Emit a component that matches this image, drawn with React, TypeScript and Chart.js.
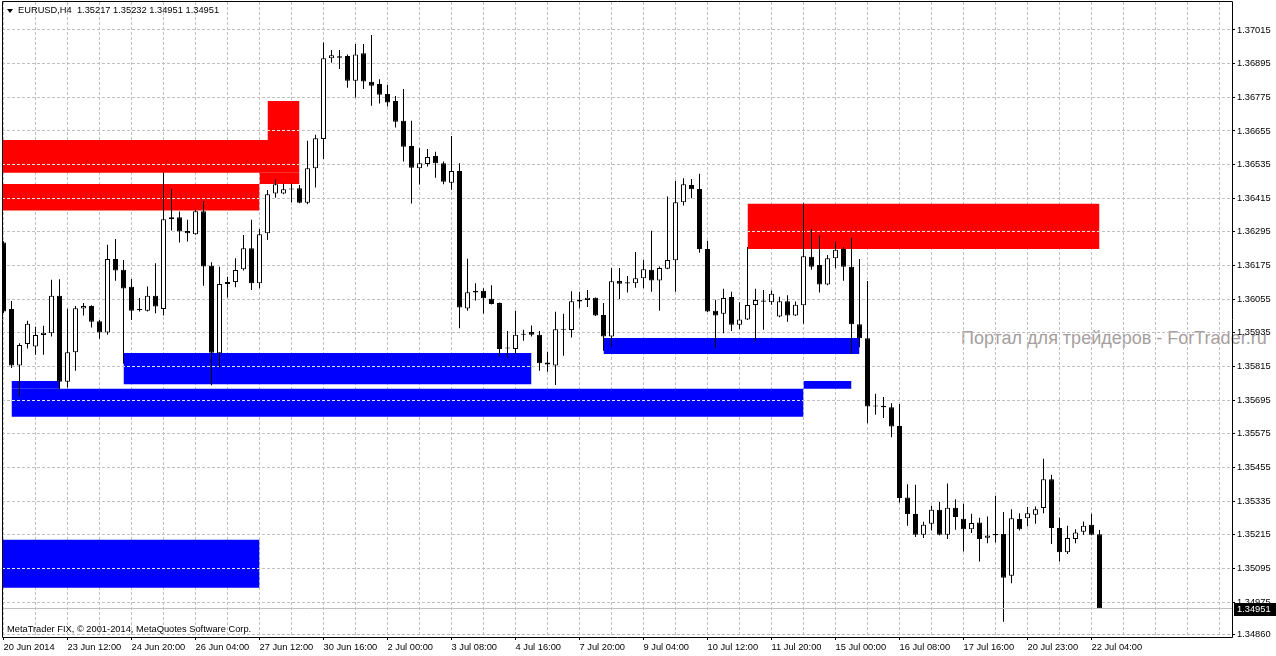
import React, { useEffect, useRef } from 'react';
import { Chart, registerables } from 'chart.js';

Chart.register(...registerables);

// ---- data (EURUSD, H4) ----
const symbol = 'EURUSD,H4';

const opens = [
  1.36257, 1.36020, 1.35819, 1.35895, 1.35886, 1.35927, 1.35934, 1.36067, 1.35761, 1.35866,
  1.36022, 1.36031, 1.35976, 1.35936, 1.36198, 1.36160, 1.36099, 1.36020, 1.36014, 1.36067,
  1.36020, 1.36340, 1.36347, 1.36298, 1.36287, 1.36369, 1.36174, 1.35862, 1.36109, 1.36116,
  1.36162, 1.36237, 1.36112, 1.36290, 1.36432, 1.36432, 1.36446, 1.36451, 1.36399, 1.36522,
  1.36626, 1.36914, 1.36921, 1.36922, 1.36834, 1.36932, 1.36830, 1.36822, 1.36787, 1.36762,
  1.36691, 1.36601, 1.36522, 1.36537, 1.36566, 1.36540, 1.36470, 1.36512, 1.36022, 1.36085,
  1.36085, 1.36057, 1.36041, 1.35879, 1.35877, 1.35928, 1.35938, 1.35928, 1.35829, 1.35819,
  1.35946, 1.35945, 1.36053, 1.36052, 1.36060, 1.35999, 1.35922, 1.36120, 1.36111, 1.36112,
  1.36130, 1.36160, 1.36122, 1.36164, 1.36194, 1.36401, 1.36462, 1.36448, 1.36234, 1.36014,
  1.36003, 1.36063, 1.35964, 1.35983, 1.36034, 1.36046, 1.36044, 1.35993, 1.36048, 1.35997,
  1.36033, 1.36206, 1.36177, 1.36107, 1.36201, 1.36234, 1.36171, 1.35966, 1.35916, 1.35676,
  1.35675, 1.35670, 1.35603, 1.35348, 1.35289, 1.35215, 1.35254, 1.35304, 1.35215, 1.35311,
  1.35272, 1.35235, 1.35259, 1.35204, 1.35218, 1.35218, 1.35069, 1.35271, 1.35274, 1.35286,
  1.35310, 1.35413, 1.35239, 1.35153, 1.35200, 1.35226, 1.35251, 1.35217,
];
const highs = [
  1.36262, 1.36049, 1.35898, 1.35978, 1.35957, 1.35960, 1.36124, 1.36126, 1.36021, 1.36031,
  1.36041, 1.36033, 1.35981, 1.36249, 1.36270, 1.36195, 1.36127, 1.36059, 1.36100, 1.36183,
  1.36506, 1.36448, 1.36368, 1.36338, 1.36374, 1.36405, 1.36187, 1.36171, 1.36135, 1.36201,
  1.36284, 1.36338, 1.36305, 1.36444, 1.36482, 1.36467, 1.36468, 1.36462, 1.36620, 1.36641,
  1.36970, 1.36944, 1.36944, 1.36928, 1.36965, 1.36965, 1.36997, 1.36839, 1.36819, 1.36780,
  1.36805, 1.36691, 1.36594, 1.36591, 1.36581, 1.36546, 1.36637, 1.36540, 1.36199, 1.36112,
  1.36094, 1.36105, 1.36043, 1.35942, 1.36014, 1.35946, 1.35961, 1.35942, 1.35868, 1.36010,
  1.36003, 1.36083, 1.36082, 1.36088, 1.36061, 1.36041, 1.36166, 1.36166, 1.36138, 1.36223,
  1.36195, 1.36299, 1.36172, 1.36421, 1.36477, 1.36486, 1.36484, 1.36502, 1.36263, 1.36053,
  1.36092, 1.36082, 1.36044, 1.36241, 1.36092, 1.36088, 1.36086, 1.36064, 1.36069, 1.36047,
  1.36397, 1.36305, 1.36282, 1.36213, 1.36261, 1.36240, 1.36273, 1.36198, 1.36120, 1.35718,
  1.35706, 1.35684, 1.35681, 1.35395, 1.35393, 1.35261, 1.35318, 1.35332, 1.35398, 1.35342,
  1.35326, 1.35290, 1.35276, 1.35280, 1.35354, 1.35296, 1.35306, 1.35292, 1.35314, 1.35316,
  1.35486, 1.35429, 1.35276, 1.35247, 1.35235, 1.35262, 1.35290, 1.35232,
];
const lows = [
  1.36006, 1.35810, 1.35708, 1.35879, 1.35857, 1.35857, 1.35922, 1.35734, 1.35740, 1.35800,
  1.35997, 1.35954, 1.35914, 1.35928, 1.36121, 1.35825, 1.35981, 1.36011, 1.36011, 1.36005,
  1.35997, 1.36300, 1.36257, 1.36261, 1.36285, 1.36103, 1.35748, 1.35811, 1.36061, 1.36098,
  1.36157, 1.36088, 1.36094, 1.36266, 1.36417, 1.36429, 1.36401, 1.36397, 1.36394, 1.36453,
  1.36555, 1.36898, 1.36876, 1.36809, 1.36774, 1.36805, 1.36745, 1.36753, 1.36742, 1.36667,
  1.36546, 1.36396, 1.36464, 1.36528, 1.36488, 1.36465, 1.36445, 1.35951, 1.36014, 1.36050,
  1.36004, 1.36036, 1.35851, 1.35845, 1.35859, 1.35907, 1.35922, 1.35800, 1.35796, 1.35749,
  1.35853, 1.35918, 1.36023, 1.36027, 1.35995, 1.35871, 1.35886, 1.36056, 1.36079, 1.36096,
  1.36094, 1.36082, 1.36014, 1.36162, 1.36082, 1.36389, 1.36415, 1.36221, 1.36009, 1.35882,
  1.35934, 1.35942, 1.35948, 1.35981, 1.35906, 1.35946, 1.36035, 1.35991, 1.35975, 1.35995,
  1.35967, 1.36160, 1.36079, 1.36105, 1.36165, 1.36121, 1.35862, 1.35884, 1.35613, 1.35643,
  1.35631, 1.35563, 1.35330, 1.35247, 1.35207, 1.35203, 1.35230, 1.35213, 1.35200, 1.35233,
  1.35155, 1.35221, 1.35120, 1.35185, 1.35187, 1.34905, 1.35042, 1.35230, 1.35245, 1.35254,
  1.35292, 1.35182, 1.35120, 1.35146, 1.35185, 1.35215, 1.35213, 1.34951,
];
const closes = [
  1.36011, 1.35819, 1.35892, 1.35967, 1.35927, 1.35935, 1.36067, 1.35761, 1.35866, 1.36023,
  1.36031, 1.35975, 1.35936, 1.36198, 1.36157, 1.36093, 1.36014, 1.36016, 1.36067, 1.36029,
  1.36340, 1.36347, 1.36296, 1.36290, 1.36369, 1.36172, 1.35864, 1.36109, 1.36116, 1.36159,
  1.36237, 1.36112, 1.36287, 1.36429, 1.36465, 1.36447, 1.36450, 1.36399, 1.36522, 1.36629,
  1.36914, 1.36925, 1.36916, 1.36834, 1.36928, 1.36831, 1.36816, 1.36784, 1.36756, 1.36688,
  1.36599, 1.36524, 1.36540, 1.36562, 1.36540, 1.36474, 1.36512, 1.36025, 1.36080, 1.36079,
  1.36058, 1.36038, 1.35877, 1.35883, 1.35928, 1.35932, 1.35928, 1.35827, 1.35822, 1.35948,
  1.35950, 1.36048, 1.36047, 1.36060, 1.35997, 1.35922, 1.36119, 1.36110, 1.36115, 1.36130,
  1.36162, 1.36122, 1.36166, 1.36195, 1.36401, 1.36465, 1.36447, 1.36234, 1.36011, 1.35997,
  1.36059, 1.35964, 1.35983, 1.36034, 1.36052, 1.36050, 1.36074, 1.36048, 1.35997, 1.36035,
  1.36208, 1.36171, 1.36107, 1.36201, 1.36231, 1.36171, 1.35966, 1.35916, 1.35672, 1.35672,
  1.35670, 1.35601, 1.35346, 1.35289, 1.35215, 1.35251, 1.35304, 1.35215, 1.35311, 1.35278,
  1.35235, 1.35257, 1.35200, 1.35212, 1.35213, 1.35062, 1.35274, 1.35235, 1.35292, 1.35306,
  1.35413, 1.35239, 1.35153, 1.35203, 1.35223, 1.35247, 1.35215, 1.34951,
];

const timeTickLabels = [
  '20 Jun 2014', '23 Jun 12:00', '24 Jun 20:00', '26 Jun 04:00', '27 Jun 12:00', '30 Jun 16:00',
  '2 Jul 00:00', '3 Jul 08:00', '4 Jul 16:00', '7 Jul 20:00', '9 Jul 04:00', '10 Jul 12:00',
  '11 Jul 20:00', '15 Jul 00:00', '16 Jul 08:00', '17 Jul 16:00', '20 Jul 23:00', '22 Jul 04:00',
];

const priceTickLabels = [
  '1.37015', '1.36895', '1.36775', '1.36655', '1.36535', '1.36415', '1.36295', '1.36175',
  '1.36055', '1.35935', '1.35815', '1.35695', '1.35575', '1.35455', '1.35335', '1.35215',
  '1.35095', '1.34975', '1.34860',
];

// supply / demand zones: start bar, end bar, low price, high price
const zoneFromBar = [-1, 33, 32, -1, 93, 15, 1, 1, 75, 100, -1];
const zoneToBar = [37, 37, 37, 32, 137, 66, 7, 100, 107, 106, 32];
const zoneLow = [1.36506, 1.36623, 1.36466, 1.36371, 1.36234, 1.35752, 1.35736, 1.35636, 1.35860, 1.35736, 1.35026];
const zoneHigh = [1.36623, 1.36762, 1.36506, 1.36466, 1.36395, 1.35863, 1.35763, 1.35736, 1.35917, 1.35763, 1.35197];
const zoneKind = ['supply', 'supply', 'supply', 'supply', 'supply', 'demand', 'demand', 'demand', 'demand', 'demand', 'demand'];

const watermark = 'Портал для трейдеров - ForTrader.ru';
const copyright = 'MetaTrader FIX, © 2001-2014, MetaQuotes Software Corp.';

const FONT = '"Liberation Sans", Arial, sans-serif';
const FS = 9.3;

export default function App() {
  const canvasRef = useRef<HTMLCanvasElement | null>(null);

  useEffect(() => {
    const canvas = canvasRef.current;
    if (!canvas) return;

    const idx = opens.map((_, i) => i);
    const wickData = idx.map((i) => ({ x: i, y: [lows[i], highs[i]] }));
    const bodyData = idx.map((i) => ({ x: i, y: [opens[i], closes[i]] }));
    const bodyFill = idx.map((i) => (closes[i] >= opens[i] ? '#ffffff' : '#000000'));

    const zoneSets = zoneFromBar.map((from, k) => ({
      type: 'line' as const,
      data: [
        { x: from, y: zoneHigh[k] },
        { x: zoneToBar[k], y: zoneHigh[k] },
      ],
      fill: { value: zoneLow[k] },
      backgroundColor: zoneKind[k] === 'supply' ? '#ff0000' : '#0000ff',
      borderColor: 'rgba(0,0,0,0)',
      borderWidth: 0,
      pointRadius: 0,
      pointHoverRadius: 0,
      tension: 0,
      order: 10,
      isZone: true,
    }));

    const lastClose = closes[closes.length - 1];

    const overlay = {
      id: 'mtOverlay',
      afterDatasetDraw(chart: any, args: any) {
        const ds = chart.data.datasets[args.index];
        if (!ds.isZone) return;
        const { ctx, chartArea } = chart;
        const xs = chart.scales.x;
        const ys = chart.scales.y;
        const x1 = Math.max(xs.getPixelForValue(ds.data[0].x), chartArea.left);
        const x2 = Math.min(xs.getPixelForValue(ds.data[1].x), chartArea.right);
        const yTop = ys.getPixelForValue(ds.data[0].y);
        const yBot = ys.getPixelForValue(ds.fill.value);
        ctx.save();
        ctx.beginPath();
        ctx.rect(x1, yTop, x2 - x1, yBot - yTop);
        ctx.clip();
        ctx.strokeStyle = '#e4e4e4';
        ctx.lineWidth = 1;
        ctx.setLineDash([3, 2]);
        ys.ticks.forEach((t: any) => {
          const py = Math.round(ys.getPixelForValue(t.value) - 0.5) + 0.5;
          ctx.beginPath();
          ctx.moveTo(chartArea.left, py);
          ctx.lineTo(chartArea.right, py);
          ctx.stroke();
        });
        ctx.restore();
      },
      afterDraw(chart: any) {
        const { ctx, chartArea } = chart;
        const ys = chart.scales.y;
        const py = ys.getPixelForValue(lastClose);
        ctx.save();
        // bid line
        ctx.strokeStyle = '#c0c0c0';
        ctx.lineWidth = 1;
        ctx.beginPath();
        ctx.moveTo(chartArea.left, Math.round(py - 0.5) + 0.5);
        ctx.lineTo(chartArea.right, Math.round(py - 0.5) + 0.5);
        ctx.stroke();
        // frame
        ctx.strokeStyle = '#000000';
        ctx.beginPath();
        ctx.moveTo(chartArea.left + 0.5, chartArea.top - 0.5);
        ctx.lineTo(chartArea.right + 0.5, chartArea.top - 0.5);
        ctx.lineTo(chartArea.right + 0.5, chartArea.bottom + 0.5);
        ctx.lineTo(chartArea.left + 0.5, chartArea.bottom + 0.5);
        ctx.closePath();
        ctx.stroke();
        // price label
        const by = Math.round(py);
        ctx.fillStyle = '#000000';
        ctx.fillRect(chartArea.right + 2, by - 6, chart.width - chartArea.right - 2, 13);
        ctx.fillStyle = '#ffffff';
        ctx.font = `${FS}px ${FONT}`;
        ctx.textBaseline = 'middle';
        ctx.textAlign = 'left';
        ctx.fillText(lastClose.toFixed(5), chartArea.right + 5, by + 0.5);
        ctx.restore();
      },
    };

    const xMin = -0.1875;
    const xMax = xMin + 1230 / 8;

    const chart = new Chart(canvas, {
      type: 'bar',
      data: {
        datasets: [
          ...zoneSets,
          {
            type: 'bar',
            data: wickData,
            backgroundColor: '#000000',
            borderWidth: 0,
            barThickness: 1,
            grouped: false,
            inflateAmount: 0,
            order: 5,
          },
          {
            type: 'bar',
            data: bodyData,
            backgroundColor: bodyFill,
            borderColor: '#000000',
            borderWidth: 1,
            borderSkipped: false,
            barThickness: 5,
            minBarLength: 1,
            grouped: false,
            inflateAmount: 0,
            order: 1,
          },
        ] as any,
      },
      options: {
        animation: false,
        responsive: false,
        devicePixelRatio: 1,
        events: [],
        layout: { padding: { left: 2, top: 2, right: 0, bottom: 0 } },
        plugins: { legend: { display: false }, tooltip: { enabled: false } },
        scales: {
          x: {
            type: 'linear',
            min: xMin,
            max: xMax,
            bounds: 'data',
            offset: false,
            grid: {
              offset: false,
              color: '#c0c0c0',
              lineWidth: 1,
              drawTicks: true,
              tickLength: 3,
              tickColor: (c: any) => {
                const v = c.tick ? c.tick.value : -1;
                return v % 8 === 0 && v / 8 < timeTickLabels.length ? '#000000' : 'rgba(0,0,0,0)';
              },
            },
            border: { display: false, dash: [3, 2] },
            afterBuildTicks: (scale: any) => {
              const t: any[] = [];
              for (let v = 0; v <= xMax; v += 4) t.push({ value: v });
              scale.ticks = t;
            },
            afterFit: (scale: any) => {
              scale.height = 19;
              scale.paddingLeft = 0;
              scale.paddingRight = 0;
            },
            ticks: {
              autoSkip: false,
              maxRotation: 0,
              minRotation: 0,
              align: 'start',
              padding: 2,
              color: '#000000',
              font: { family: FONT, size: FS },
              callback: (value: any) => {
                const n = Number(value);
                if (n % 8 !== 0) return '';
                return timeTickLabels[n / 8] ?? '';
              },
            },
          },
          y: {
            type: 'linear',
            position: 'right',
            min: 1.348504,
            max: 1.371148,
            bounds: 'data',
            beginAtZero: false,
            grid: {
              color: '#c0c0c0',
              lineWidth: 1,
              drawTicks: true,
              tickLength: 3,
              tickColor: '#000000',
            },
            border: { display: false, dash: [3, 2] },
            afterBuildTicks: (scale: any) => {
              scale.ticks = priceTickLabels.map((s) => ({ value: parseFloat(s) }));
            },
            afterFit: (scale: any) => {
              scale.width = 44;
              scale.paddingTop = 0;
              scale.paddingBottom = 0;
            },
            ticks: {
              autoSkip: false,
              padding: 2,
              color: '#000000',
              font: { family: FONT, size: FS },
              callback: (_v: any, i: number) => priceTickLabels[i],
            },
          },
        },
      } as any,
      plugins: [overlay],
    });

    return () => chart.destroy();
  }, []);

  const n = closes.length - 1;
  const title = `${symbol}  ${opens[n].toFixed(5)} ${highs[n].toFixed(5)} ${lows[n].toFixed(5)} ${closes[n].toFixed(5)}`;

  const textBase: React.CSSProperties = {
    position: 'absolute',
    fontFamily: FONT,
    fontSize: FS,
    lineHeight: 1,
    whiteSpace: 'pre',
    color: '#000',
  };

  return (
    <div style={{ position: 'relative', width: 1276, height: 656, background: '#ffffff', overflow: 'hidden' }}>
      <style>{'html,body{margin:0;padding:0;background:#fff;}'}</style>
      <div style={{ ...textBase, left: 961, top: 329, fontSize: 18, color: '#a69e9e' }}>{watermark}</div>
      <canvas ref={canvasRef} width={1276} height={656} style={{ position: 'absolute', left: 0, top: 0, width: 1276, height: 656 }} />
      <div
        style={{
          position: 'absolute',
          left: 7,
          top: 9,
          width: 0,
          height: 0,
          borderLeft: '3px solid transparent',
          borderRight: '3px solid transparent',
          borderTop: '4px solid #000',
        }}
      />
      <div style={{ ...textBase, left: 18, top: 6 }}>{title}</div>
      <div style={{ ...textBase, left: 7, top: 625 }}>{copyright}</div>
    </div>
  );
}
